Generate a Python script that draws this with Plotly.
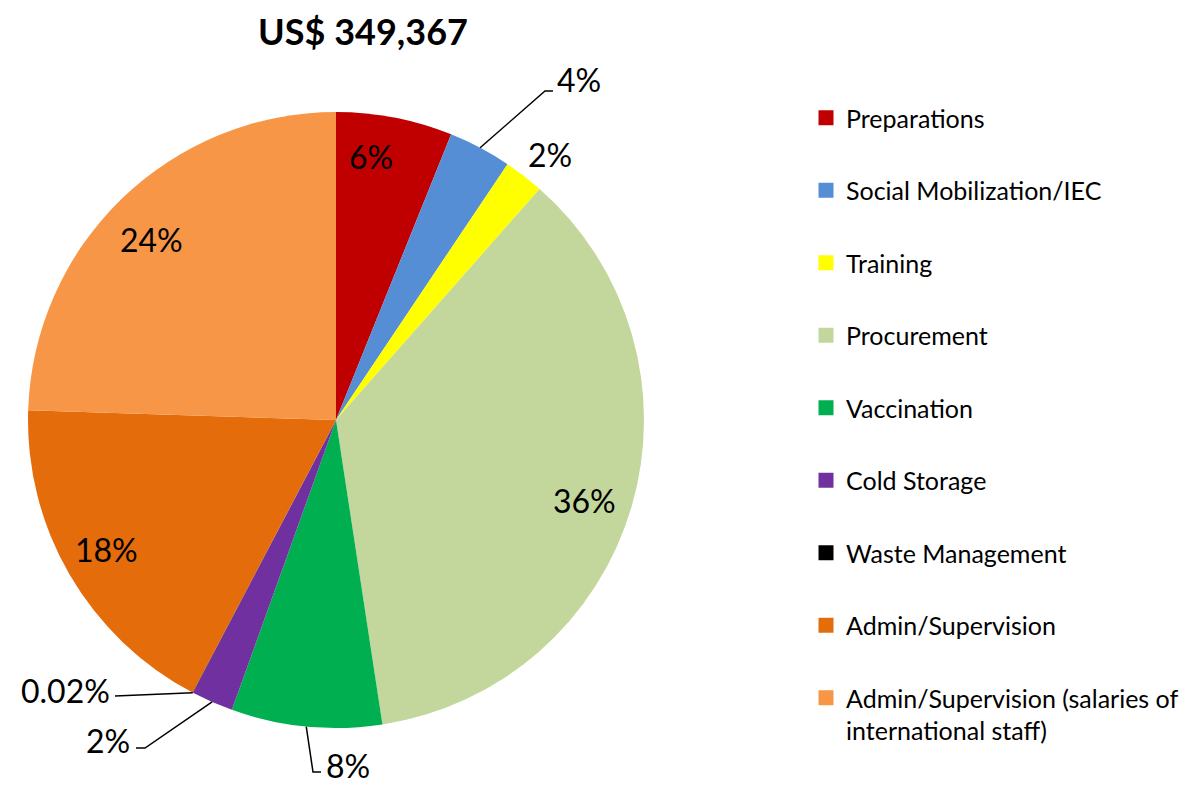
import math
import plotly.graph_objects as go

# ---- data ----
categories = ["Preparations", "Social Mobilization/IEC", "Training", "Procurement",
              "Vaccination", "Cold Storage", "Waste Management", "Admin/Supervision",
              "Admin/Supervision (salaries of international staff)"]
legend_labels = ["Preparations", "Social Mobilization/IEC", "Training", "Procurement",
                 "Vaccination", "Cold Storage", "Waste Management", "Admin/Supervision",
                 "Admin/Supervision (salaries of<br>international staff)"]
shares = [6.1, 3.3, 2.1, 36.1, 7.9, 2.2, 0.02, 17.8, 24.5]
pct_text = ["6%", "4%", "2%", "36%", "8%", "2%", "0.02%", "18%", "24%"]
colors = ["#C00000", "#558ED5", "#FFFF00", "#C3D69B", "#00B050",
          "#7030A0", "#000000", "#E46C0A", "#F79646"]
title_text = "US$ 349,367"

# ---- layout constants (pixels) ----
W, H = 1200, 785
CX, CY, R = 336, 420, 308
FONT = "Lato"


def px(x):
    return x / W


def py(y):
    return 1 - y / H


fig = go.Figure()
fig.add_trace(go.Pie(
    labels=categories, values=shares, sort=False, direction="clockwise",
    rotation=0, marker=dict(colors=colors, line=dict(width=0)),
    textinfo="none", hoverinfo="label+percent", showlegend=False,
    domain=dict(x=[px(CX - R), px(CX + R)], y=[py(CY + R), py(CY - R)]),
))

# legend via dummy traces, one group each to get Excel-like spacing
for lab, col in zip(legend_labels, colors):
    fig.add_trace(go.Scatter(
        x=[None], y=[None], mode="markers", name=lab, legendgroup=lab,
        marker=dict(symbol="square", size=15, color=col), showlegend=True,
    ))

# mid angles of slices from the data
total = sum(shares)
mids = []
cum = 0
for v in shares:
    mids.append((cum + v / 2) / total * 2 * math.pi)
    cum += v


def rim(i, r=R):
    a = mids[i]
    return CX + r * math.sin(a), CY - r * math.cos(a)


# label placement: index -> (x, y, xanchor, elbow points after rim)
label_pos = {
    0: (371, 157, "center", None),
    1: (555, 80, "left", [(545, 91), (553, 91)]),
    2: (550, 155, "center", None),
    3: (584, 500, "center", None),
    4: (324, 765, "left", [(313, 772), (321, 772)]),
    5: (132, 740, "right", [(145, 748), (136, 748)]),
    6: (112, 690, "right", [(115, 696)]),
    7: (106, 549, "center", None),
    8: (151, 240, "center", None),
}

for i, (lx, ly, anc, pts) in label_pos.items():
    fig.add_annotation(x=px(lx), y=py(ly), xref="paper", yref="paper",
                       text=pct_text[i], showarrow=False, xanchor=anc, yanchor="middle",
                       font=dict(family=FONT, size=32, color="black"))
    if pts:
        sx, sy = rim(i)
        path = f"M {px(sx)} {py(sy)}" + "".join(f" L {px(x)} {py(y)}" for x, y in pts)
        fig.add_shape(type="path", path=path, xref="paper", yref="paper",
                      line=dict(color="black", width=1.5))

fig.update_layout(
    width=W, height=H,
    margin=dict(l=0, r=0, t=0, b=0),
    paper_bgcolor="white", plot_bgcolor="white",
    xaxis=dict(visible=False), yaxis=dict(visible=False),
    title=dict(text=f"<b>{title_text}</b>", x=px(363), y=py(32), xref="container",
               yref="container", xanchor="center", yanchor="middle",
               font=dict(family=FONT, size=36, color="black")),
    legend=dict(x=px(806), y=py(95), xanchor="left", yanchor="top",
                font=dict(family=FONT, size=25, color="black"),
                tracegroupgap=37, bgcolor="rgba(0,0,0,0)", valign="top"),
    showlegend=True,
)

fig.write_html("out.html", post_script="document.body.style.margin='0';",
               config={"displayModeBar": False})
